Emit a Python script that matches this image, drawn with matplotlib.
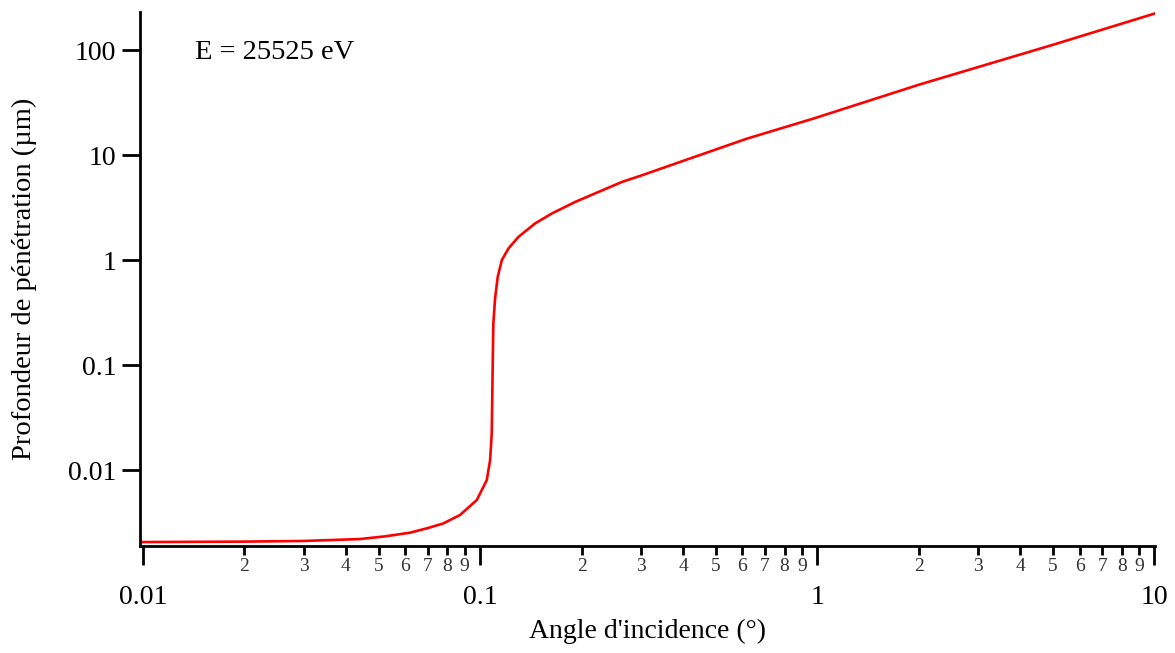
import math
import matplotlib
matplotlib.use("Agg")
import matplotlib.pyplot as plt
from matplotlib.ticker import LogLocator, FixedLocator, FuncFormatter, NullLocator

plt.rcParams['font.family'] = ['Liberation Serif', 'DejaVu Serif']

# values (angle in degrees, depth in micrometres)
angles = [0.01, 0.02, 0.03, 0.044, 0.052, 0.062, 0.07, 0.0778, 0.0872,
          0.0978, 0.1047, 0.1071, 0.1083, 0.109, 0.1095, 0.1108, 0.1128,
          0.116, 0.1213, 0.130, 0.1456, 0.1633, 0.1914, 0.2244, 0.2634,
          0.3, 0.392, 0.6184, 0.975, 2, 5, 10]
depth = [0.00206, 0.00208, 0.00211, 0.0022, 0.00233, 0.00253, 0.0028,
         0.0031, 0.00373, 0.00518, 0.00804, 0.01245, 0.0225, 0.1, 0.25,
         0.432, 0.693, 1.0, 1.29, 1.67, 2.24, 2.79, 3.59, 4.47, 5.57,
         6.4, 8.64, 14.4, 22.4, 47, 113, 224]

x_major = [0.01, 0.1, 1, 10]
x_major_labels = ['0.01', '0.1', '1', '10']
y_major = [0.01, 0.1, 1, 10, 100]
y_major_labels = ['0.01', '0.1', '1', '10', '100']


def mantissa(v, pos):
    return '%d' % round(v / 10 ** math.floor(math.log10(v) + 1e-9))


fig = plt.figure(figsize=(11.75, 6.53), dpi=100)
ax = fig.add_axes([0.1191, 0.1639, 0.8640, 0.8177])

ax.plot(angles, depth, color='#ff0000', lw=1.9)
ax.set_xscale('log')
ax.set_yscale('log')
ax.set_xlim(0.0098, 10.05)
ax.set_ylim(0.00189, 232)

for s in ['top', 'right']:
    ax.spines[s].set_visible(False)
for s in ['left', 'bottom']:
    ax.spines[s].set_linewidth(2)

ax.xaxis.set_major_locator(FixedLocator(x_major))
ax.set_xticklabels(x_major_labels)
ax.xaxis.set_minor_locator(LogLocator(base=10, subs=range(2, 10)))
ax.xaxis.set_minor_formatter(FuncFormatter(mantissa))
ax.yaxis.set_major_locator(FixedLocator(y_major))
ax.set_yticklabels(y_major_labels)
ax.yaxis.set_minor_locator(NullLocator())

ax.tick_params(axis='x', which='major', direction='out', length=14, width=2,
               labelsize=20, pad=14)
ax.tick_params(axis='x', which='minor', direction='out', length=6.5, width=2,
               labelsize=14, pad=2, labelcolor='#333333')
ax.tick_params(axis='y', which='major', direction='out', length=13, width=2,
               labelsize=20, pad=4)

ax.set_xlabel("Angle d'incidence (°)", fontsize=20)
ax.set_ylabel("Profondeur de pénétration (µm)", fontsize=20.5)
ax.xaxis.set_label_coords(0.5, -0.137)
ax.yaxis.set_label_coords(-0.101, 0.5)

ax.text(0.054, 0.925, 'E = 25525 eV', transform=ax.transAxes, fontsize=20.5,
        va='center', ha='left')

fig.savefig('out.png', dpi=100)
